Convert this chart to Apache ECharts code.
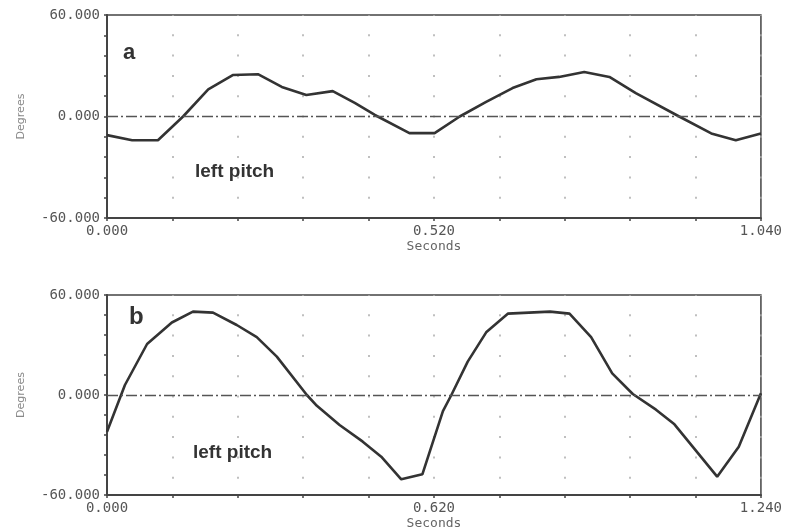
<!DOCTYPE html>
<html>
<head>
<meta charset="utf-8">
<script src="https://cdn.jsdelivr.net/npm/echarts@6/dist/echarts.min.js"></script>
<style>
  html, body { margin: 0; padding: 0; background: #fff; }
  #chart { width: 785px; height: 531px; }
</style>
</head>
<body>
<div id="chart"></div>
<script>
// panel a: left pitch, 0 - 1.040 s
const timeA = [0, 0.040, 0.081, 0.121, 0.161, 0.200, 0.240, 0.278, 0.317, 0.359, 0.394, 0.426,
  0.481, 0.521, 0.561, 0.603, 0.645, 0.683, 0.719, 0.759, 0.799, 0.841, 0.910, 0.961, 1.000, 1.040];
const degA = [-11, -14, -14, 0, 16, 24.5, 25, 17.5, 12.7, 15, 8, 0.9,
  -9.8, -9.8, 0, 8.6, 16.8, 22, 23.4, 26.3, 23.4, 13.8, 0, -10, -14, -10];

// panel b: left pitch, 0 - 1.240 s
const timeB = [0, 0.034, 0.076, 0.123, 0.163, 0.201, 0.246, 0.284, 0.322, 0.379, 0.398, 0.441,
  0.485, 0.520, 0.558, 0.598, 0.637, 0.653, 0.684, 0.719, 0.760, 0.840, 0.877, 0.918, 0.958,
  0.997, 1.041, 1.076, 1.157, 1.198, 1.240];
const degB = [-22, 6, 30.6, 43.5, 50, 49.4, 42, 34.7, 23, 0, -6.5, -18,
  -28, -37, -50.6, -47.6, -9.7, 0, 20, 37.6, 48.8, 50, 48.8, 34.7, 13,
  0.6, -8.8, -17.6, -49, -31, 1];

const xLabelsA = ['0.000', '0.520', '1.040'];
const xLabelsB = ['0.000', '0.620', '1.240'];
const yLabels = ['60.000', '0.000', '-60.000'];

const pairs = (xs, ys) => xs.map((x, i) => [x, ys[i]]);

const monoFont = '"DejaVu Sans Mono", monospace';
const axisColor = '#444';

function xAxisFor(gridIndex, max, labels) {
  return {
    type: 'value', gridIndex: gridIndex, min: 0, max: max, interval: max / 10,
    name: 'Seconds', nameLocation: 'middle', nameGap: 22,
    nameTextStyle: { fontFamily: monoFont, fontSize: 13, color: '#666' },
    axisLine: { onZero: false, lineStyle: { color: axisColor, width: 2 } },
    axisTick: { length: 3, lineStyle: { color: axisColor, width: 1.5 } },
    axisLabel: {
      fontFamily: monoFont, fontSize: 14, color: '#555', margin: 6,
      showMinLabel: true, showMaxLabel: true,
      formatter: v => labels.indexOf(v.toFixed(3)) >= 0 ? v.toFixed(3) : ''
    },
    splitLine: {
      show: true,
      lineStyle: { color: '#aaa', width: 1.5, type: [2, 18.3], dashOffset: 1 }
    }
  };
}

function yAxisFor(gridIndex) {
  return {
    type: 'value', gridIndex: gridIndex, min: -60, max: 60, interval: 12,
    name: 'Degrees', nameLocation: 'middle', nameGap: 80, nameRotate: 90,
    nameTextStyle: { fontFamily: '"DejaVu Sans", sans-serif', fontSize: 11, color: '#888' },
    axisLine: { show: true, onZero: false, lineStyle: { color: axisColor, width: 2 } },
    axisTick: { show: true, length: 3, lineStyle: { color: axisColor, width: 1.5 } },
    axisLabel: {
      fontFamily: monoFont, fontSize: 14, color: '#555', margin: 7,
      formatter: v => {
        const s = v.toFixed(3);
        return yLabels.indexOf(s) >= 0 ? s : '';
      }
    },
    splitLine: { show: false }
  };
}

function seriesFor(idx, data) {
  return {
    type: 'line', xAxisIndex: idx, yAxisIndex: idx, data: data,
    symbol: 'none', smooth: false, silent: true,
    lineStyle: { color: '#333', width: 2.6 },
    markLine: {
      silent: true, symbol: 'none', label: { show: false },
      lineStyle: { color: '#555', width: 1.3, type: [11, 3, 2, 3] },
      data: [{ yAxis: 0 }]
    },
    z: 3
  };
}

const chart = echarts.init(document.getElementById('chart'), null, { renderer: 'canvas' });
chart.setOption({
  animation: false,
  backgroundColor: '#fff',
  grid: [
    { left: 107, top: 15, width: 655, height: 203, show: true, borderColor: axisColor, borderWidth: 1.5 },
    { left: 107, top: 295, width: 655, height: 203, show: true, borderColor: axisColor, borderWidth: 1.5 }
  ],
  xAxis: [xAxisFor(0, 1.04, xLabelsA), xAxisFor(1, 1.24, xLabelsB)],
  yAxis: [yAxisFor(0), yAxisFor(1)],
  series: [seriesFor(0, pairs(timeA, degA)), seriesFor(1, pairs(timeB, degB))],
  graphic: [
    { type: 'text', left: 123, top: 42, style: { text: 'a', font: 'bold 22px "Liberation Sans", Arial, sans-serif', fill: '#333' } },
    { type: 'text', left: 195, top: 162, style: { text: 'left pitch', font: 'bold 19px "Liberation Sans", Arial, sans-serif', fill: '#333' } },
    { type: 'text', left: 129, top: 305, style: { text: 'b', font: 'bold 24px "Liberation Sans", Arial, sans-serif', fill: '#333' } },
    { type: 'text', left: 193, top: 443, style: { text: 'left pitch', font: 'bold 19px "Liberation Sans", Arial, sans-serif', fill: '#333' } }
  ]
});
</script>
</body>
</html>
